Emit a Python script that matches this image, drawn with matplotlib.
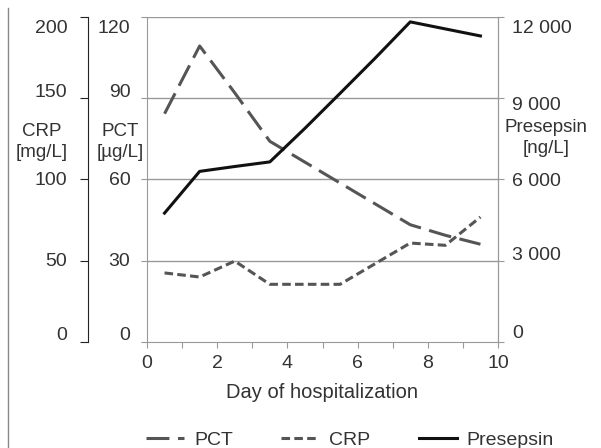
import matplotlib
matplotlib.use("Agg")
import matplotlib.pyplot as plt
from matplotlib.lines import Line2D
from matplotlib.transforms import ScaledTranslation

plt.rcParams['font.family'] = ['Liberation Sans', 'DejaVu Sans']

# data
days = [0.5, 1.5, 2.5, 3.5, 4.5, 5.5, 6.5, 7.5, 8.5, 9.5]
pct = [84.3, 109.3, 92.0, 74.1, 66.4, 58.7, 51.0, 43.3, 39.4, 36.1]
crp = [42.5, 40.0, 49.8, 35.5, 35.5, 35.5, 48.2, 60.9, 59.5, 76.9]
presepsin = [4760, 6300, 6480, 6650, 7890, 9180, 10480, 11820, 11560, 11300]

pct_ticks = [0, 30, 60, 90, 120]
crp_ticks = [0, 50, 100, 150, 200]
pre_ticks = [0, 3000, 6000, 9000, 12000]
pre_labels = ['0', '3 000', '6 000', '9 000', '12 000']

txt = '#333333'
axc = '#999999'
fs = 14

fig = plt.figure(figsize=(6.01, 4.48), dpi=100)
W, H = 601, 448
x0, x1, ytop, ybot = 147, 498, 17, 342
ax = fig.add_axes([x0 / W, 1 - ybot / H, (x1 - x0) / W, (ybot - ytop) / H])


def nudge(labels, shifts):
    # move tick labels up/down a few pixels like in the original
    for lab, dy in zip(labels, shifts):
        lab.set_transform(lab.get_transform() + ScaledTranslation(0, dy / 100, fig.dpi_scale_trans))


# PCT on the main axes
ax.plot(days, pct, color='#555555', lw=2.2, dashes=(7.5, 2.8), label='PCT')
ax.set_xlim(0, 10)
ax.set_ylim(0, 120)
ax.set_yticks(pct_ticks)
ax.set_xticks(range(0, 11))
ax.set_xticklabels([str(i) if i % 2 == 0 else '' for i in range(0, 11)])
for v in pct_ticks[1:]:
    ax.axhline(v, color=axc, lw=1, zorder=0)
ax.spines['top'].set_visible(False)
for s in ['left', 'bottom', 'right']:
    ax.spines[s].set_color(axc)
ax.tick_params(axis='both', colors=axc, labelcolor=txt, labelsize=fs, length=4)
ax.tick_params(axis='y', pad=8)
ax.tick_params(axis='x', pad=5)
ax.set_xlabel('Day of hospitalization', fontsize=14.5, color=txt, labelpad=8)
nudge(ax.get_yticklabels(), [8, 1, 1, 8, -10])

# CRP on an outer left axis
ax_crp = ax.twinx()
ax_crp.plot(days, crp, color='#555555', lw=2.2, dashes=(2.8, 1.4), label='CRP')
ax_crp.set_ylim(0, 200)
ax_crp.set_yticks(crp_ticks)
ax_crp.yaxis.set_ticks_position('left')
ax_crp.yaxis.set_label_position('left')
ax_crp.spines['left'].set_position(('axes', -59 / 351))
ax_crp.spines['left'].set_visible(True)
ax_crp.spines['left'].set_color('#222222')
for s in ['top', 'right', 'bottom']:
    ax_crp.spines[s].set_visible(False)
ax_crp.tick_params(axis='y', colors='#222222', labelcolor=txt, labelsize=fs, length=6, pad=9)
nudge(ax_crp.get_yticklabels(), [8, 1, 1, 8, -10])

# Presepsin on the right axis
ax_pre = ax.twinx()
ax_pre.plot(days, presepsin, color='#111111', lw=2.2, label='Presepsin')
ax_pre.set_ylim(0, 12000)
ax_pre.set_yticks(pre_ticks)
ax_pre.set_yticklabels(pre_labels)
for s in ['top', 'left', 'bottom']:
    ax_pre.spines[s].set_visible(False)
ax_pre.spines['right'].set_color(axc)
ax_pre.tick_params(axis='y', colors=axc, labelcolor=txt, labelsize=fs, length=4, pad=6)
nudge(ax_pre.get_yticklabels(), [10, 7, 0, -5, -10])

# axis titles
fig.text(42 / W, 1 - 142 / H, 'CRP\n[mg/L]', ha='center', va='center', fontsize=13.5, color=txt, linespacing=1.3)
fig.text(120 / W, 1 - 142 / H, 'PCT\n[µg/L]', ha='center', va='center', fontsize=13.5, color=txt, linespacing=1.3)
fig.text(546 / W, 1 - 138 / H, 'Presepsin\n[ng/L]', ha='center', va='center', fontsize=13.5, color=txt, linespacing=1.35)

# thin frame line at far left
fig.add_artist(Line2D([8 / W, 8 / W], [0, 1 - 8 / H], color='#888888', lw=1))

handles = [ax.get_lines()[0], ax_crp.get_lines()[0], ax_pre.get_lines()[0]]
fig.legend(handles, ['PCT', 'CRP', 'Presepsin'], loc='center', ncol=3,
           bbox_to_anchor=(350 / W, 1 - 440 / H), frameon=False, fontsize=14,
           handlelength=1.95, columnspacing=2.5, handletextpad=0.5, labelcolor=txt)

fig.savefig('out.png', dpi=100)
